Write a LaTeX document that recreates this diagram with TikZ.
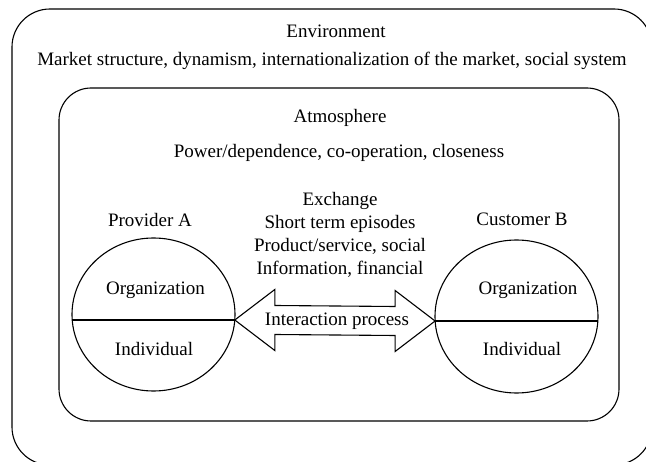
\documentclass[tikz,border=0pt]{standalone}
\usepackage{fontspec}
\setmainfont{Liberation Serif}
\usepackage{tikz}
\usetikzlibrary{calc,shapes.geometric}
\def\linesep{22.7}

\begin{document}
\begin{tikzpicture}[x=1pt,y=-1pt,line width=1.1pt,font=\fontsize{19}{22.7}\selectfont]
	\tikzstyle{frame}=[draw,rounded corners=38pt]
	\tikzstyle{inner frame}=[draw,rounded corners=32pt]
	\tikzstyle{party}=[draw,ellipse,minimum width=163pt,minimum height=153pt,inner sep=0pt]
	\tikzstyle{annot}=[inner sep=0pt,anchor=base]

	\useasboundingbox (0,0) rectangle (646,462);
	\clip (0,0) rectangle (646,462);

	% Draw the two frames
	\draw[frame] (12,9) rectangle (652,465);
	\draw[inner frame] (59,88) rectangle (619,421);

	\node[annot] (env) at (336,38) {Environment};
	\node[annot] (env-d) at (332,66) {Market structure, dynamism, internationalization of the market, social system};
	\node[annot] (atm) at (340,123) {Atmosphere};
	\node[annot] (atm-d) at (339,158) {Power/dependence, co-operation, closeness};

	% Draw the exchange lines
	\foreach \txt [count=\i] in {Exchange, Short term episodes, {Product/service, social}, {Information, financial}}
	\node[annot] (ex-\i) at (340,206+\i*\linesep-\linesep) {\txt};

	% Draw the two parties
	\node[party] (provA) at (153.5,314.5) {};
	\node[party] (custB) at (516.5,316.5) {};
	\node[annot] at (150,227) {Provider A};
	\node[annot] at (522,226) {Customer B};

	% The chord splitting each party
	\coordinate (pa-w) at ($(provA.center)+(-81.3,5.5)$);
	\coordinate (pa) at ($(provA.center)+(81.3,5.5)$);
	\coordinate (cb) at ($(custB.center)+(-81.4,4.5)$);
	\coordinate (cb-e) at ($(custB.center)+(81.4,4.5)$);
	\draw (pa-w) -- (pa);
	\draw (cb) -- (cb-e);

	\node[annot] at (155.5,295) {Organization};
	\node[annot] at (154,356) {Individual};
	\node[annot] at (528,295) {Organization};
	\node[annot] at (522,356) {Individual};

	% Interaction arrow between the parties
	\draw[line join=miter] (pa) -- ++(40,-30.5) -- ++(0,16) -- ($(cb)+(-40,-14.5)$) -- ++(0,-16)
		-- (cb) -- ++(-40,30.5) -- ++(0,-16) -- ($(pa)+(40,14.5)$) -- ++(0,16) -- cycle;
	\node[annot] (ip) at (337,326) {Interaction process};
\end{tikzpicture}
\end{document}
